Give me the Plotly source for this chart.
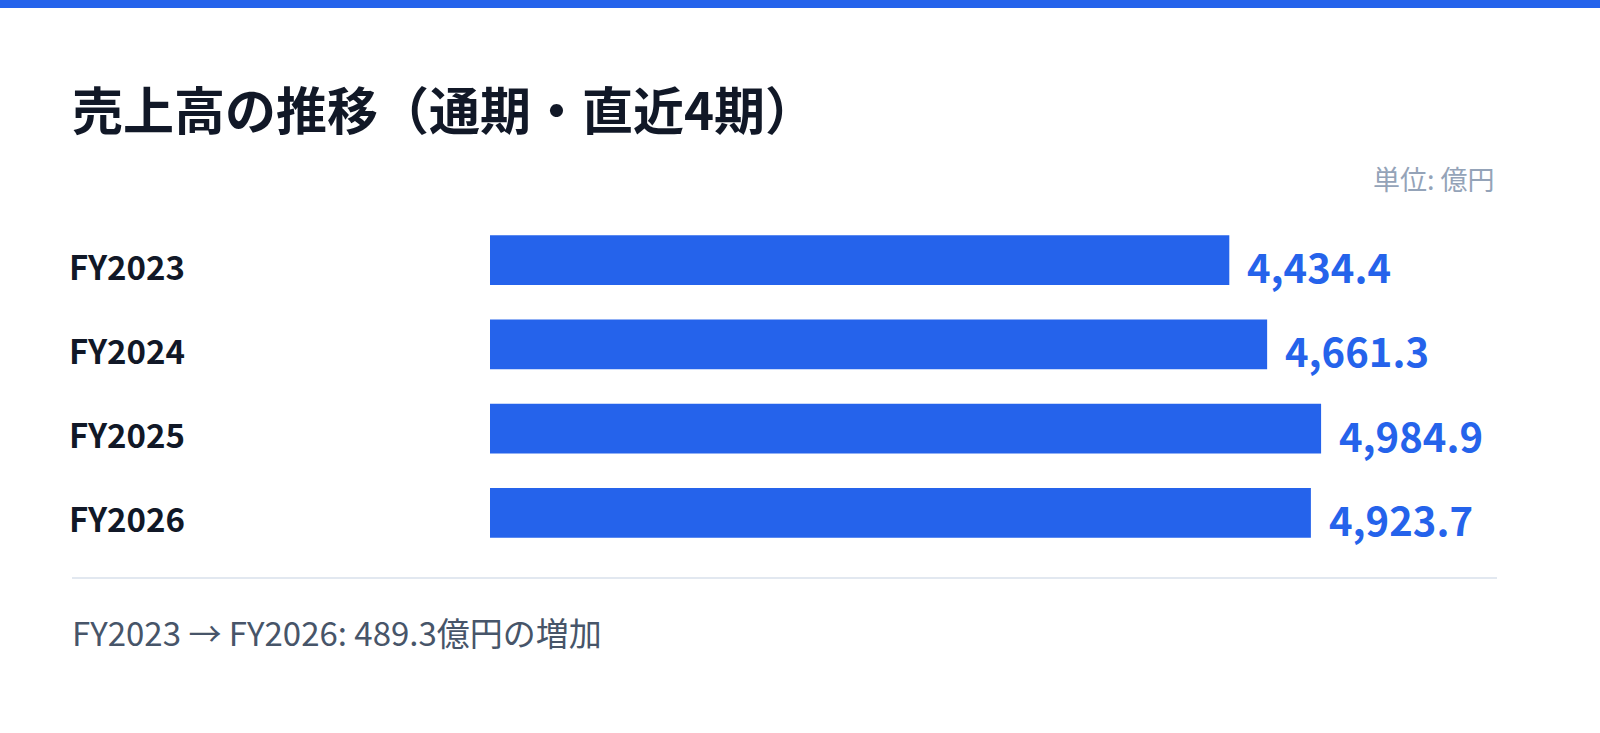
import plotly.graph_objects as go

# data
periods = ['FY2023', 'FY2024', 'FY2025', 'FY2026']
sales = [4434.4, 4661.3, 4984.9, 4923.7]
value_labels = ['4,434.4', '4,661.3', '4,984.9', '4,923.7']

title_text = '売上高の推移（通期・直近4期）'
unit_text = '単位: 億円'
footer_text = 'FY2023 → FY2026: 489.3億円の増加'

W, H = 1600, 733
ML, MR, MT, MB = 490, 103, 218, 178
PW, PH = W - ML - MR, H - MT - MB

BLUE = '#2563eb'
FONT = 'Noto Sans CJK JP, Noto Sans, sans-serif'


def px_x(x):
    # page pixel -> paper x
    return (x - ML) / PW


def px_y(y):
    # page pixel -> paper y
    return (H - MB - y) / PH


fig = go.Figure()

fig.add_trace(go.Bar(
    x=sales,
    y=periods,
    orientation='h',
    width=0.593,
    marker=dict(color=BLUE, line=dict(width=0)),
    hoverinfo='skip',
))

# value labels to the right of each bar
for p, v, lbl in zip(periods, sales, value_labels):
    fig.add_annotation(
        x=v, y=p, xref='x', yref='y',
        text=f'<b>{lbl}</b>', showarrow=False,
        xanchor='left', yanchor='middle', xshift=16, yshift=-6,
        font=dict(size=40, color=BLUE, family=FONT),
    )

# title
fig.add_annotation(
    x=px_x(70), y=px_y(108), xref='paper', yref='paper',
    text=f'<b>{title_text}</b>', showarrow=False,
    xanchor='left', yanchor='middle',
    font=dict(size=51, color='#111827', family=FONT),
)

# unit note
fig.add_annotation(
    x=1, y=px_y(179), xref='paper', yref='paper',
    text=unit_text, showarrow=False,
    xanchor='right', yanchor='middle',
    font=dict(size=27, color='#94a3b8', family=FONT),
)

# footer
fig.add_annotation(
    x=px_x(70), y=px_y(632), xref='paper', yref='paper',
    text=footer_text, showarrow=False,
    xanchor='left', yanchor='middle',
    font=dict(size=33, color='#475569', family=FONT),
)

# top accent bar and separator line
fig.add_shape(type='rect', xref='paper', yref='paper',
              x0=px_x(0), x1=px_x(W), y0=px_y(8), y1=px_y(0),
              fillcolor=BLUE, line=dict(width=0), layer='above')
fig.add_shape(type='line', xref='paper', yref='paper',
              x0=px_x(72), x1=1, y0=px_y(578), y1=px_y(578),
              line=dict(color='#e2e8f0', width=2))

fig.update_layout(
    width=W, height=H,
    margin=dict(l=ML, r=MR, t=MT, b=MB, pad=0),
    paper_bgcolor='white',
    plot_bgcolor='white',
    showlegend=False,
    font=dict(family=FONT),
    xaxis=dict(range=[0, 6040], visible=False, fixedrange=True),
    yaxis=dict(
        autorange='reversed',
        showgrid=False, zeroline=False, showline=False, ticks='',
        ticklabelstandoff=304,
        ticklabelshift=-8,
        tickfont=dict(size=33, color='#111827', family=FONT, weight='bold'),
        fixedrange=True,
    ),
)

# page has a default body margin; drop it so the figure fills the window
fig.write_html('out.html', config={'displayModeBar': False},
               post_script="document.body.style.margin='0';")
